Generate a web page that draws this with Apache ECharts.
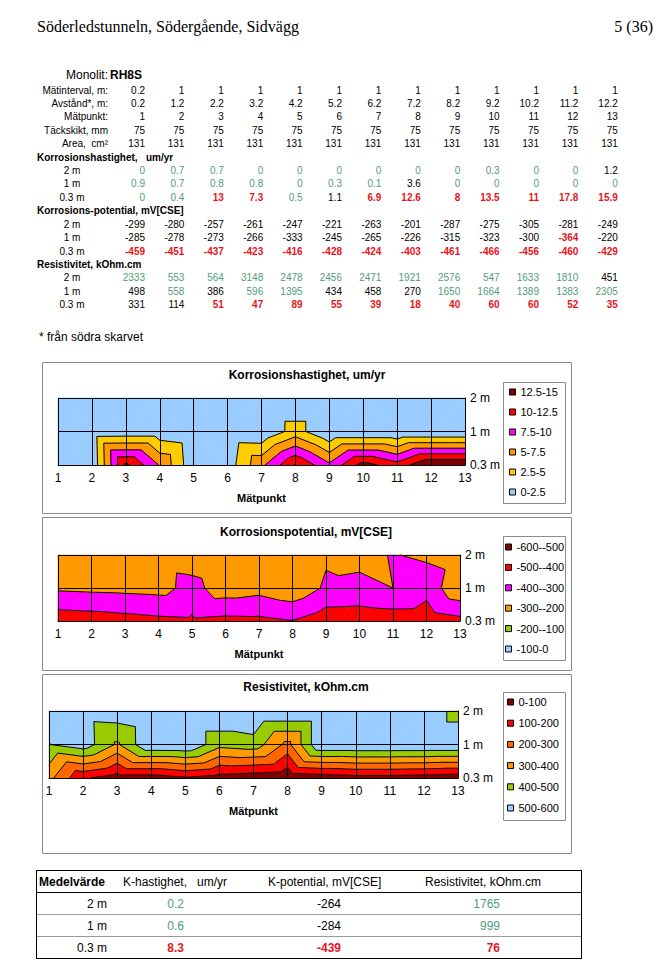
<!DOCTYPE html>
<html><head><meta charset="utf-8">
<script src="https://cdn.jsdelivr.net/npm/echarts@6/dist/echarts.min.js"></script>
<style>
html,body{margin:0;padding:0;background:#fff;width:655px;height:980px;overflow:hidden;}
#chart{position:absolute;left:0;top:0;width:655px;height:980px;}
.t{position:absolute;white-space:pre;color:#000;}
</style></head><body>
<div id="chart"></div>
<div id="text"></div>
<script>
// ---------- data ----------
const matpunkt    = [1,2,3,4,5,6,7,8,9,10,11,12,13];
const matinterval = [0.2,1,1,1,1,1,1,1,1,1,1,1,1];
const avstand     = [0.2,1.2,2.2,3.2,4.2,5.2,6.2,7.2,8.2,9.2,10.2,11.2,12.2];
const tackskikt   = [75,75,75,75,75,75,75,75,75,75,75,75,75];
const area        = [131,131,131,131,131,131,131,131,131,131,131,131,131];
const djupLabels  = ['2 m','1 m','0.3 m'];

const hast2m  = [0,0.7,0.7,0,0,0,0,0,0,0.3,0,0,1.2];
const hast1m  = [0.9,0.7,0.8,0.8,0,0.3,0.1,3.6,0,0,0,0,0];
const hast03m = [0,0.4,13,7.3,0.5,1.1,6.9,12.6,8,13.5,11,17.8,15.9];

const pot2m  = [-299,-280,-257,-261,-247,-221,-263,-201,-287,-275,-305,-281,-249];
const pot1m  = [-285,-278,-273,-266,-333,-245,-265,-226,-315,-323,-300,-364,-220];
const pot03m = [-459,-451,-437,-423,-416,-428,-424,-403,-461,-466,-456,-460,-429];

const res2m  = [2333,553,564,3148,2478,2456,2471,1921,2576,547,1633,1810,451];
const res1m  = [498,558,386,596,1395,434,458,270,1650,1664,1389,1383,2305];
const res03m = [331,114,51,47,89,55,39,18,40,60,60,52,35];

const medelHast   = [0.2,0.6,8.3];
const medelPot    = [-264,-284,-439];
const medelResist = [1765,999,76];

const hastBands = ['0-2.5','2.5-5','5-7.5','7.5-10','10-12.5','12.5-15'];
const hastLevels = [0,2.5,5,7.5,10,12.5,15];
const potBands = ['-600--500','-500--400','-400--300','-300--200','-200--100','-100-0'];
const potLevels = [-600,-500,-400,-300,-200,-100,0];
const resBands = ['0-100','100-200','200-300','300-400','400-500','500-600'];
const resLevels = [0,100,200,300,400,500,600];

// ---------- styles ----------
const SANS = '"Liberation Sans", Arial, sans-serif';
const SERIF = '"Liberation Serif", "Times New Roman", serif';
const GREEN = '#4f9c7b', RED = '#e8141c';
const hastColors = ['#99ccff','#ffcc00','#ff9900','#ff00ff','#ff0000','#800000'];
const potColors  = ['#800000','#ff0000','#ff00ff','#ff9900','#99cc00','#99ccff'];
const resColors  = ['#800000','#ff0000','#ff6600','#ff9900','#99cc00','#99ccff'];

// ---------- HTML text ----------
const host = document.getElementById('text');
function addText(s, x, y, o) {
  o = o || {};
  const size = o.size || 10, lh = Math.round(size * 1.25);
  const d = document.createElement('div');
  d.className = 't';
  d.textContent = s;
  d.style.fontFamily = o.family || SANS;
  d.style.fontSize = size + 'px';
  d.style.lineHeight = lh + 'px';
  d.style.top = (y - lh / 2) + 'px';
  if (o.bold) d.style.fontWeight = 'bold';
  if (o.color) d.style.color = o.color;
  const al = o.align || 'left';
  if (al === 'left') d.style.left = x + 'px';
  else if (al === 'right') d.style.right = (655 - x) + 'px';
  else { d.style.left = (x - 100) + 'px'; d.style.width = '200px'; d.style.textAlign = 'center'; }
  host.appendChild(d);
}
function hastStyle(v){ return v < 1 ? {color:GREEN} : v <= 5 ? {} : {color:RED, bold:true}; }
function potStyle(v){ return v < -350 ? {color:RED, bold:true} : {}; }
function resStyle(v){ return v > 500 ? {color:GREEN} : v < 100 ? {color:RED, bold:true} : {}; }

addText('Söderledstunneln, Södergående, Sidvägg', 37, 27, {size:16, family:SERIF});
addText('5 (36)', 653, 27, {size:16, family:SERIF, align:'right'});

addText('Monolit:', 108, 75, {size:12, align:'right'});
addText('RH8S', 110, 75, {size:12, bold:true});

const rowY = k => 90 + k * 13.42;
const colRight = i => 145 + i * 39.4;
function valueRow(k, label, vals, styleFn, labelCenter) {
  if (labelCenter) addText(label, 72, rowY(k), {align:'center'});
  else addText(label, 108, rowY(k), {align:'right'});
  vals.forEach((v, i) => {
    const st = styleFn ? styleFn(v) : {};
    addText(String(v), colRight(i), rowY(k), Object.assign({align:'right'}, st));
  });
}
valueRow(0, 'Mätinterval, m:', matinterval);
valueRow(1, 'Avstånd*, m:', avstand);
valueRow(2, 'Mätpunkt:', matpunkt);
valueRow(3, 'Täckskikt, mm', tackskikt);
valueRow(4, 'Area,  cm²', area);
addText('Korrosionshastighet,   um/yr', 37, rowY(5), {bold:true});
valueRow(6, djupLabels[0], hast2m, hastStyle, true);
valueRow(7, djupLabels[1], hast1m, hastStyle, true);
valueRow(8, djupLabels[2], hast03m, hastStyle, true);
addText('Korrosions-potential, mV[CSE]', 37, rowY(9), {bold:true});
valueRow(10, djupLabels[0], pot2m, potStyle, true);
valueRow(11, djupLabels[1], pot1m, potStyle, true);
valueRow(12, djupLabels[2], pot03m, potStyle, true);
addText('Resistivitet, kOhm.cm', 37, rowY(13), {bold:true});
valueRow(14, djupLabels[0], res2m, resStyle, true);
valueRow(15, djupLabels[1], res1m, resStyle, true);
valueRow(16, djupLabels[2], res03m, resStyle, true);
addText('* från södra skarvet', 39, 337, {size:12});

// summary table
function box(x, y, w, h, css) {
  const d = document.createElement('div');
  d.style.position = 'absolute'; d.style.left = x + 'px'; d.style.top = y + 'px';
  d.style.width = w + 'px'; d.style.height = h + 'px'; d.style.boxSizing = 'border-box';
  Object.assign(d.style, css); host.appendChild(d);
}
const tTop = 870, tRow = 22;
box(36, tTop, 546, 89, {border:'1.5px solid #000'});
box(37, tTop + 22, 544, 1, {background:'#000'});
box(37, tTop + 44, 544, 1, {background:'#9a9a9a'});
box(37, tTop + 66, 544, 1, {background:'#9a9a9a'});
addText('Medelvärde', 39, tTop + 12, {size:12, bold:true});
addText('K-hastighet,   um/yr', 123, tTop + 12, {size:12});
addText('K-potential, mV[CSE]', 268, tTop + 12, {size:12});
addText('Resistivitet, kOhm.cm', 425, tTop + 12, {size:12});
djupLabels.forEach((lab, r) => {
  const y = tTop + 34 + r * tRow;
  addText(lab, 107, y, {size:12, align:'right'});
  addText(String(medelHast[r]), 184, y, Object.assign({size:12, align:'right'}, hastStyle(medelHast[r])));
  addText(String(medelPot[r]), 341, y, Object.assign({size:12, align:'right'}, potStyle(medelPot[r])));
  addText(String(medelResist[r]), 500, y, Object.assign({size:12, align:'right'}, resStyle(medelResist[r])));
});

// ---------- contour helpers ----------
// rows ordered bottom->top: 0.3 m, 1 m, 2 m (category positions 0,1,2)
function cellData(rows) {
  const d = [];
  for (let j = 0; j < rows.length - 1; j++)
    for (let i = 0; i < matpunkt.length - 1; i++)
      d.push([matpunkt[i], j, matpunkt[i + 1], j + 1, rows[j][i], rows[j][i + 1], rows[j + 1][i], rows[j + 1][i + 1]]);
  return d;
}
function triangles(api, lo, hi) {
  const c = v => Math.min(hi, Math.max(lo, v));
  const x0 = api.value(0), y0 = api.value(1), x1 = api.value(2), y1 = api.value(3);
  const BL = {x:x0, y:y0, v:c(api.value(4))}, BR = {x:x1, y:y0, v:c(api.value(5))};
  const TL = {x:x0, y:y1, v:c(api.value(6))}, TR = {x:x1, y:y1, v:c(api.value(7))};
  const m = (BL.v + BR.v + TL.v + TR.v) / 4;
  const dev = [BL, BR, TL, TR].map(p => Math.abs(p.v - m));
  const k = dev.indexOf(Math.max.apply(null, dev));
  if (k === 0 || k === 3) return [[BL, BR, TR], [BL, TR, TL]];
  return [[TL, BL, BR], [TL, BR, TR]];
}
function clip(poly, L, above) {
  const out = [];
  for (let i = 0; i < poly.length; i++) {
    const a = poly[i], b = poly[(i + 1) % poly.length];
    const ia = above ? a.v >= L : a.v <= L;
    const ib = above ? b.v >= L : b.v <= L;
    if (ia) out.push(a);
    if (ia !== ib) {
      const t = (L - a.v) / (b.v - a.v);
      out.push({x:a.x + t * (b.x - a.x), y:a.y + t * (b.y - a.y), v:L});
    }
  }
  return out;
}
function bandRender(levels, b) {
  return function (params, api) {
    const tris = triangles(api, levels[0], levels[levels.length - 1]);
    const col = api.visual('color');
    const children = [];
    tris.forEach(tri => {
      let p = clip(tri, levels[b], true);
      if (p.length < 3) return;
      p = clip(p, levels[b + 1], false);
      if (p.length < 3) return;
      children.push({type:'polygon', silent:true,
        shape:{points:p.map(q => api.coord([q.x, q.y]))},
        style:{fill:col, stroke:col, lineWidth:0.7}});
    });
    return {type:'group', children};
  };
}
function lineRender(levels) {
  return function (params, api) {
    const tris = triangles(api, levels[0], levels[levels.length - 1]);
    const children = [];
    for (let k = 1; k < levels.length - 1; k++) {
      const L = levels[k];
      tris.forEach(tri => {
        const pts = [];
        for (let i = 0; i < 3; i++) {
          const a = tri[i], b = tri[(i + 1) % 3];
          if ((a.v > L) !== (b.v > L)) {
            const t = (L - a.v) / (b.v - a.v);
            pts.push(api.coord([a.x + t * (b.x - a.x), a.y + t * (b.y - a.y)]));
          }
        }
        if (pts.length === 2)
          children.push({type:'line', silent:true,
            shape:{x1:pts[0][0], y1:pts[0][1], x2:pts[1][0], y2:pts[1][1]},
            style:{stroke:'#000', lineWidth:1}});
      });
    }
    return {type:'group', children};
  };
}
function chartSeries(gi, rows, levels, names, colors) {
  const data = cellData(rows);
  const s = names.map((n, b) => ({
    type:'custom', name:n, xAxisIndex:gi, yAxisIndex:gi, data,
    encode:{x:[0, 2], y:[1, 3]}, renderItem:bandRender(levels, b),
    itemStyle:{color:colors[b]}, silent:true, animation:false, z:2
  }));
  s.push({type:'custom', name:'kontur' + gi, xAxisIndex:gi, yAxisIndex:gi, data,
    encode:{x:[0, 2], y:[1, 3]}, renderItem:lineRender(levels), silent:true, animation:false, z:3});
  return s;
}

// ---------- chart ----------
const grids = [
  {left:58, top:398, width:407, height:67},
  {left:58, top:555, width:402, height:66},
  {left:49, top:711, width:409, height:67}
];
const yPos = djupLabels.slice().reverse(); // 0.3 m, 1 m, 2 m
function xAx(gi) {
  return {type:'value', gridIndex:gi, min:1, max:13, interval:1, z:10,
    axisLine:{show:true, lineStyle:{color:'#000', width:1}}, axisTick:{show:false},
    axisLabel:{fontSize:12, color:'#000', fontFamily:SANS, margin:7},
    splitLine:{show:true, lineStyle:{color:'#000', width:1}},
    name:'Mätpunkt', nameLocation:'middle', nameGap:27,
    nameTextStyle:{fontSize:11, fontWeight:'bold', color:'#000', fontFamily:SANS}};
}
function yAx(gi) {
  return {type:'value', gridIndex:gi, min:0, max:2, interval:1, position:'right', z:10,
    axisLine:{show:true, lineStyle:{color:'#000', width:1}}, axisTick:{show:false},
    axisLabel:{fontSize:12, color:'#000', fontFamily:SANS, margin:5, formatter:v => yPos[v]},
    splitLine:{show:true, lineStyle:{color:'#000', width:1}}};
}
function legend(names, left, top, gap) {
  return {data:names, orient:'vertical', left, top, itemWidth:6, itemHeight:6, itemGap:gap,
    icon:'rect', selectedMode:false, padding:0, z:6,
    itemStyle:{borderColor:'#000', borderWidth:1},
    textStyle:{fontSize:11, color:'#000', fontFamily:SANS, lineHeight:12}};
}
function ttl(text, x, y) {
  return {text, left:x, top:y, textAlign:'center', padding:0,
    textStyle:{fontSize:12, fontWeight:'bold', color:'#000', fontFamily:SANS}};
}
const frame = (x, y, w, h, fill) => ({type:'rect', z:1, shape:{x, y, width:w, height:h},
  style:{fill:fill || 'none', stroke:'#8c8c8c', lineWidth:1}});

const chart = echarts.init(document.getElementById('chart'), null, {renderer:'svg'});
chart.setOption({
  animation:false,
  backgroundColor:'transparent',
  title:[ttl('Korrosionshastighet, um/yr', 307, 369), ttl('Korrosionspotential, mV[CSE]', 306, 526), ttl('Resistivitet, kOhm.cm', 306, 681)],
  grid:grids,
  xAxis:[xAx(0), xAx(1), xAx(2)],
  yAxis:[yAx(0), yAx(1), yAx(2)],
  legend:[
    legend(hastBands.slice().reverse(), 509, 386, 8),
    legend(potBands, 505, 541, 8.4),
    legend(resBands, 507, 696, 9.2)
  ],
  graphic:[
    frame(42.5, 362.5, 529, 151),
    frame(42.5, 517.5, 529, 153),
    frame(42.5, 674.5, 529, 179),
    frame(503.5, 382.5, 62, 121, '#fff'),
    frame(503.5, 536.5, 62, 124, '#fff'),
    frame(503.5, 692.5, 62, 128, '#fff')
  ],
  series:[].concat(
    chartSeries(0, [hast03m, hast1m, hast2m], hastLevels, hastBands, hastColors),
    chartSeries(1, [pot03m, pot1m, pot2m], potLevels, potBands, potColors),
    chartSeries(2, [res03m, res1m, res2m], resLevels, resBands, resColors)
  )
});
</script></body></html>
